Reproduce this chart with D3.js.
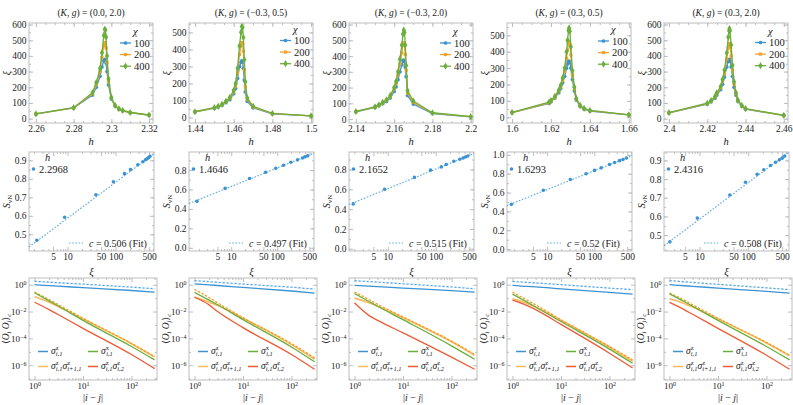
<!DOCTYPE html>
<html>
<head>
<meta charset="utf-8">
<title>xi, entropy and correlators</title>
<script src="https://cdnjs.cloudflare.com/ajax/libs/d3/7.8.5/d3.min.js"></script>
<style>
  body { margin: 0; background: #fff; }
  svg text { font-family: "Liberation Serif", "DejaVu Serif", serif !important; }
</style>
</head>
<body>
<script>
// ---------------- data ----------------
var titleK = ["0.0", "\u22120.3", "\u22120.3", "0.3", "0.3"];
var titleG = ["2.0", "0.5", "2.0", "0.5", "2.0"];

// top row: correlation length xi vs h, for chi = 100, 200, 400
var chiLabels = ["100", "200", "400"];
var h1 = [2.26, 2.28, 2.29, 2.292, 2.294, 2.295, 2.296, 2.2965, 2.2968, 2.2972, 2.2977, 2.2985, 2.300, 2.302, 2.304, 2.306, 2.31, 2.32];
var xi1 = [
  [30, 68, 150, 200, 270, 330, 370, 378, 375, 355, 300, 215, 125, 80, 60, 50, 38, 22],
  [30, 69, 158, 215, 300, 390, 465, 485, 480, 450, 360, 240, 132, 82, 62, 51, 39, 22],
  [30, 70, 165, 230, 320, 420, 530, 570, 565, 520, 400, 255, 135, 84, 63, 52, 39, 23]
];
var h2 = [1.44, 1.45, 1.452, 1.454, 1.456, 1.458, 1.46, 1.461, 1.462, 1.463, 1.4638, 1.4642, 1.4646, 1.465, 1.4655, 1.466, 1.467, 1.47, 1.48, 1.5];
var xi2 = [
  [33, 55, 62, 72, 88, 105, 140, 170, 230, 300, 325, 332, 325, 290, 220, 150, 95, 58, 22, 10],
  [34, 57, 64, 75, 92, 112, 150, 185, 265, 370, 420, 440, 435, 390, 280, 180, 105, 62, 23, 10],
  [34, 58, 66, 78, 96, 118, 160, 200, 290, 420, 500, 535, 530, 470, 340, 210, 115, 66, 24, 10]
];
var h3 = [2.14, 2.15, 2.152, 2.154, 2.156, 2.158, 2.16, 2.161, 2.162, 2.163, 2.164, 2.1646, 2.165, 2.1654, 2.1658, 2.1663, 2.167, 2.17, 2.18, 2.2];
var xi3 = [
  [46, 74, 85, 98, 112, 135, 175, 205, 250, 300, 345, 370, 375, 365, 330, 270, 150, 95, 35, 14],
  [47, 76, 88, 102, 118, 142, 190, 225, 280, 350, 420, 470, 485, 470, 410, 310, 165, 105, 37, 15],
  [48, 78, 90, 106, 122, 150, 200, 240, 300, 380, 470, 540, 565, 550, 470, 340, 180, 115, 40, 15]
];
var h4 = [1.6, 1.619, 1.62, 1.622, 1.624, 1.625, 1.626, 1.627, 1.628, 1.6285, 1.629, 1.6293, 1.6297, 1.6302, 1.631, 1.632, 1.633, 1.635, 1.637, 1.64, 1.66];
var xi4 = [
  [28, 85, 95, 118, 150, 175, 210, 250, 300, 325, 340, 342, 335, 300, 230, 160, 105, 65, 50, 38, 14],
  [29, 88, 98, 122, 158, 185, 225, 280, 360, 410, 450, 460, 445, 380, 260, 175, 110, 68, 52, 40, 14],
  [30, 92, 102, 128, 165, 195, 240, 300, 400, 470, 530, 545, 525, 430, 285, 185, 115, 72, 54, 42, 15]
];
var h5 = [2.4, 2.42, 2.422, 2.424, 2.425, 2.427, 2.428, 2.429, 2.4302, 2.431, 2.4314, 2.4316, 2.4319, 2.4325, 2.4332, 2.434, 2.435, 2.436, 2.438, 2.44, 2.46];
var xi5 = [
  [36, 92, 108, 130, 150, 185, 220, 265, 330, 365, 375, 378, 370, 330, 270, 200, 150, 110, 80, 60, 20],
  [37, 95, 112, 135, 158, 195, 240, 290, 380, 450, 475, 480, 470, 400, 310, 220, 160, 115, 82, 62, 20],
  [38, 98, 115, 140, 165, 205, 250, 310, 420, 520, 560, 575, 560, 470, 340, 235, 165, 118, 85, 64, 21]
];
var topH = [h1, h2, h3, h4, h5];
var topXi = [xi1, xi2, xi3, xi4, xi5];
var topXTicks = [[2.26, 2.28, 2.3, 2.32], [1.44, 1.46, 1.48, 1.5], [2.14, 2.16, 2.18, 2.2], [1.6, 1.62, 1.64, 1.66], [2.4, 2.42, 2.44, 2.46]];
var topYMax = [600, 500, 600, 500, 600];

// middle row: entanglement entropy vs xi at h_c
var hcLabels = ["2.2968", "1.4646", "2.1652", "1.6293", "2.4316"];
var xiS1 = [2.3, 8.7, 39, 90, 153, 205, 290, 370, 420, 455, 490, 520];
var S1 = [0.468, 0.592, 0.714, 0.784, 0.828, 0.850, 0.876, 0.892, 0.903, 0.909, 0.915, 0.922];
var xiS2 = [1.8, 7.4, 25, 56, 93, 137, 198, 276, 354, 400, 456];
var S2 = [0.478, 0.612, 0.713, 0.778, 0.818, 0.85, 0.88, 0.905, 0.925, 0.936, 0.946];
var xiS3 = [1.9, 8.6, 36, 78, 131, 166, 239, 318, 373, 416, 466];
var S3 = [0.453, 0.60, 0.72, 0.793, 0.826, 0.85, 0.883, 0.903, 0.915, 0.925, 0.935];
var xiS4 = [1.75, 8.3, 31, 67, 101, 140, 210, 270, 344, 406, 480];
var S4 = [0.475, 0.625, 0.738, 0.80, 0.835, 0.862, 0.897, 0.918, 0.938, 0.951, 0.966];
var xiS5 = [2.46, 9.0, 42, 88, 153, 210, 288, 365, 440, 500, 565];
var S5 = [0.464, 0.591, 0.715, 0.783, 0.826, 0.85, 0.873, 0.89, 0.903, 0.912, 0.923];
var midXi = [xiS1, xiS2, xiS3, xiS4, xiS5];
var midS = [S1, S2, S3, S4, S5];
var cFit = [0.506, 0.497, 0.515, 0.52, 0.508];
var fitConst = [0.393, 0.44, 0.4085, 0.432, 0.3905];
var midYTicks = [[0.5, 0.6, 0.7, 0.8, 0.9], [0, 0.2, 0.4, 0.6, 0.8], [0, 0.2, 0.4, 0.6, 0.8], [0, 0.2, 0.4, 0.6, 0.8, 1.0], [0.5, 0.6, 0.7, 0.8, 0.9]];

// bottom row: connected correlators vs |i-j|
var dist = [1, 2, 3, 10, 100, 300];
var sigZ = [
  [1.0, 0.86, 0.79, 0.60, 0.37, 0.28],
  [1.17, 0.98, 0.87, 0.63, 0.34, 0.24],
  [0.89, 0.78, 0.72, 0.56, 0.36, 0.28],
  [0.89, 0.74, 0.68, 0.49, 0.27, 0.20],
  [1.0, 0.84, 0.76, 0.56, 0.32, 0.24]
];
var sigZref = [
  [1.78, 1.55, 1.41, 1.10, 0.66, 0.50],
  [2.0, 1.68, 1.51, 1.12, 0.65, 0.47],
  [2.0, 1.70, 1.55, 1.16, 0.68, 0.50],
  [1.78, 1.48, 1.35, 1.0, 0.56, 0.43],
  [2.0, 1.66, 1.48, 1.07, 0.58, 0.43]
];
var zzNN = [
  [0.126, 0.050, 0.025, 2.8e-3, 4.0e-5, 4.0e-6],
  [0.12, 0.050, 0.028, 3.2e-3, 3.4e-5, 2.8e-6],
  [0.10, 0.045, 0.025, 3.5e-3, 5.6e-5, 5.6e-6],
  [0.089, 0.040, 0.022, 2.2e-3, 2.2e-5, 2.0e-6],
  [0.089, 0.040, 0.022, 2.8e-3, 4.5e-5, 5.0e-6]
];
var zzNNref = [
  [0.28, 0.079, 0.035, 3.2e-3, 4.2e-5, 4.5e-6],
  [0.45, 0.112, 0.045, 3.5e-3, 4.1e-5, 3.5e-6],
  [0.28, 0.079, 0.035, 4.0e-3, 6.3e-5, 6.3e-6],
  [0.28, 0.071, 0.032, 2.5e-3, 2.5e-5, 2.5e-6],
  [0.24, 0.071, 0.032, 3.2e-3, 5.0e-5, 5.6e-6]
];
var sigX = [
  [0.25, 0.063, 0.028, 2.2e-3, 2.5e-5, 2.5e-6],
  [0.27, 0.071, 0.032, 2.5e-3, 2.3e-5, 1.8e-6],
  [0.22, 0.056, 0.025, 2.5e-3, 2.8e-5, 2.8e-6],
  [0.20, 0.050, 0.022, 1.8e-3, 1.6e-5, 1.4e-6],
  [0.21, 0.056, 0.025, 2.2e-3, 2.5e-5, 2.5e-6]
];
var zzRung = [
  [0.050, 0.014, 6.3e-3, 5.6e-4, 6.3e-6, 5.6e-7],
  [0.117, 0.0316, 0.010, 6.3e-4, 6.3e-6, 5.0e-7],
  [0.045, 5.0e-3, 2.2e-3, 2.6e-4, 4.0e-6, 5.0e-7],
  [0.071, 0.028, 0.014, 1.1e-3, 7.9e-6, 6.3e-7],
  [0.048, 0.014, 6.3e-3, 5.6e-4, 5.6e-6, 5.0e-7]
];

// ---------------- layout ----------------
var colLeft = [29, 189, 349, 507, 664];
var rowW = [124, 125, 128];
var rowY = [[23, 123], [152, 251], [278, 380]];
var topXDomain = [[2.2563, 2.3221], [1.4369, 1.5010], [2.1364, 2.2012], [1.5974, 1.6611], [2.3974, 2.4622]];
var topYDomain = [[-28, 610], [-32, 555], [-25, 610], [-35, 575], [-28, 610]];
var midXDomain = [[1.58, 630], [1.21, 630], [1.55, 630], [1.41, 630], [1.86, 692]];
var midYDomain = [[0.41, 0.945], [-0.033, 0.986], [-0.022, 0.976], [-0.02, 1.03], [0.415, 0.945]];
var legendY = [20, 17.5, 20, 18, 19.5];

var blue = "#3b93d3", orange = "#f6a12a", green = "#6aaf3c", red = "#ee5a35";
var chiColors = [blue, orange, green];
var chiSymbols = [d3.symbolCircle, d3.symbolSquare, d3.symbolDiamond];
var symSize = [11, 10, 15];
var frameCol = "#bdbdbd";

var svg = d3.select("body").append("svg").attr("width", 793).attr("height", 405);
svg.append("rect").attr("width", 793).attr("height", 405).attr("fill", "#fff");
var defs = svg.append("defs");
var clipN = 0;

function noLabel() { return ""; }

function axes(g, x, y, w, h, o) {
  g.append("rect").attr("width", w).attr("height", h)
    .attr("fill", "none").attr("stroke", frameCol).attr("stroke-width", 1);
  var fs = o.fontSize || 9.5;
  function put(gen, sc, vals, fmt, len, tr) {
    var a = g.append("g").attr("transform", tr)
      .call(gen(sc).tickValues(vals).tickFormat(fmt).tickSizeInner(-len).tickSizeOuter(0).tickPadding(2.5));
    a.attr("font-size", fs);
    a.select(".domain").remove();
    a.selectAll(".tick line").attr("stroke", frameCol);
    a.selectAll(".tick text").attr("fill", "#222");
    return a;
  }
  var bt = "translate(0," + h + ")", rt = "translate(" + w + ",0)";
  var bx = put(d3.axisBottom, x, o.xMajor, o.xFmt, 4, bt);
  put(d3.axisBottom, x, o.xMinor, noLabel, 2, bt);
  put(d3.axisTop, x, o.xMajor, noLabel, 4, "translate(0,0)");
  put(d3.axisTop, x, o.xMinor, noLabel, 2, "translate(0,0)");
  var ly = put(d3.axisLeft, y, o.yMajor, o.yFmt, 4, "translate(0,0)");
  put(d3.axisLeft, y, o.yMinor, noLabel, 2, "translate(0,0)");
  put(d3.axisRight, y, o.yMajor, noLabel, 4, rt);
  put(d3.axisRight, y, o.yMinor, noLabel, 2, rt);
  return { x: bx, y: ly };
}

function powLabels(a) {
  a.selectAll(".tick text").each(function (d) {
    var t = d3.select(this), e = Math.round(Math.log10(d));
    t.text("");
    t.append("tspan").text("10");
    t.append("tspan").attr("dy", "-0.45em").attr("font-size", 6)
      .text(String(e).replace("-", "\u2212"));
  });
}

function clipFor(g, w, h) {
  var id = "clip" + (clipN++);
  defs.append("clipPath").attr("id", id).append("rect").attr("width", w).attr("height", h);
  return "url(#" + id + ")";
}

function yLabel(g, x, y, build) {
  var t = g.append("text").attr("transform", "translate(" + x + "," + y + ") rotate(-90)")
    .attr("text-anchor", "middle").attr("font-size", 10).attr("fill", "#222");
  build(t);
}

function sigmaLabel(t, parts) {
  var off = 0;
  parts.forEach(function (p) {
    t.append("tspan").attr("dy", -off).attr("font-style", "italic").text("\u03c3");
    t.append("tspan").attr("font-size", 6.5).attr("dy", -3.5).text(p[0]);
    t.append("tspan").attr("font-size", 6.5).attr("dx", -2.8).attr("dy", 5.5).attr("font-style", "italic").text(p[1]);
    off = 2;
  });
}

function stepRange(a, b, s) {
  var out = [];
  for (var v = Math.ceil(a / s) * s; v <= b + 1e-9; v += s) out.push(+v.toFixed(6));
  return out;
}

// ---------------- top row ----------------
function drawTop(c) {
  var w = rowW[0], h = rowY[0][1] - rowY[0][0];
  var g = svg.append("g").attr("transform", "translate(" + colLeft[c] + "," + rowY[0][0] + ")");
  var x = d3.scaleLinear().domain(topXDomain[c]).range([0, w]);
  var y = d3.scaleLinear().domain(topYDomain[c]).range([h, 0]);
  axes(g, x, y, w, h, {
    xMajor: topXTicks[c], xFmt: function (d) { return String(+d.toFixed(3)); },
    xMinor: stepRange(topXDomain[c][0], topXDomain[c][1], 0.005),
    yMajor: d3.range(0, topYMax[c] + 1, 100), yFmt: d3.format("d"),
    yMinor: stepRange(0, topYDomain[c][1], 50)
  });
  var cp = clipFor(g, w, h);
  var hs = topH[c];
  topXi[c].forEach(function (ser, k) {
    var pts = hs.map(function (hv, i) { return [hv, ser[i]]; });
    g.append("path")
      .attr("d", d3.line().x(function (d) { return x(d[0]); }).y(function (d) { return y(d[1]); })(pts))
      .attr("fill", "none").attr("stroke", chiColors[k]).attr("stroke-width", 1.3)
      .attr("clip-path", cp);
    g.selectAll(null).data(pts).enter().append("path")
      .attr("transform", function (d) { return "translate(" + x(d[0]) + "," + y(d[1]) + ")"; })
      .attr("d", d3.symbol().type(chiSymbols[k]).size(symSize[k]))
      .attr("fill", chiColors[k]);
  });
  // legend
  var l0 = legendY[c];
  g.append("text").attr("x", 104).attr("y", l0 - 8).attr("font-size", 10.5)
    .attr("font-style", "italic").attr("fill", "#222").text("\u03c7");
  chiLabels.forEach(function (lab, k) {
    var yy = l0 + k * 11.6;
    g.append("line").attr("x1", 91).attr("x2", 102).attr("y1", yy).attr("y2", yy)
      .attr("stroke", chiColors[k]).attr("stroke-width", 1.3);
    g.append("path").attr("transform", "translate(96.5," + yy + ")")
      .attr("d", d3.symbol().type(chiSymbols[k]).size(symSize[k])).attr("fill", chiColors[k]);
    g.append("text").attr("x", 105).attr("y", yy + 3.5).attr("font-size", 10.5)
      .attr("fill", "#222").text(lab);
  });
  // title
  var t = g.append("text").attr("x", w / 2).attr("y", -7).attr("text-anchor", "middle")
    .attr("font-size", 9.5).attr("fill", "#222");
  t.append("tspan").text("(");
  t.append("tspan").attr("font-style", "italic").text("K");
  t.append("tspan").text(", ");
  t.append("tspan").attr("font-style", "italic").text("g");
  t.append("tspan").text(") = (" + titleK[c] + ", " + titleG[c] + ")");
  // axis labels
  yLabel(g, -19, h / 2, function (tt) { tt.attr("font-style", "italic").text("\u03be"); });
  g.append("text").attr("x", w / 2).attr("y", h + 22).attr("text-anchor", "middle")
    .attr("font-size", 10.5).attr("font-style", "italic").attr("fill", "#222").text("h");
}

// ---------------- middle row ----------------
function drawMid(c) {
  var w = rowW[1], h = rowY[1][1] - rowY[1][0];
  var g = svg.append("g").attr("transform", "translate(" + colLeft[c] + "," + rowY[1][0] + ")");
  var dom = midXDomain[c];
  var x = d3.scaleLog().domain(dom).range([0, w]);
  var y = d3.scaleLinear().domain(midYDomain[c]).range([h, 0]);
  var minorX = [1, 2, 3, 4, 6, 7, 8, 9, 20, 30, 40, 60, 70, 80, 90, 200, 300, 400, 600]
    .filter(function (v) { return v >= dom[0] && v <= dom[1]; });
  var yStep = midYTicks[c][1] - midYTicks[c][0];
  axes(g, x, y, w, h, {
    xMajor: [5, 10, 50, 100, 500], xFmt: d3.format("d"), xMinor: minorX,
    yMajor: midYTicks[c], yFmt: d3.format(".1f"),
    yMinor: stepRange(midYDomain[c][0], midYDomain[c][1], yStep / 2)
  });
  var cp = clipFor(g, w, h);
  var fitPts = dom.map(function (v) { return [v, fitConst[c] + cFit[c] / 6 * Math.log(v)]; });
  g.append("path")
    .attr("d", d3.line().x(function (d) { return x(d[0]); }).y(function (d) { return y(d[1]); })(fitPts))
    .attr("fill", "none").attr("stroke", "#62b0e3").attr("stroke-width", 1.2)
    .attr("stroke-dasharray", "1.6,1.6").attr("clip-path", cp);
  var pts = midXi[c].map(function (v, i) { return [v, midS[c][i]]; });
  g.selectAll(null).data(pts).enter().append("circle")
    .attr("cx", function (d) { return x(d[0]); }).attr("cy", function (d) { return y(d[1]); })
    .attr("r", 1.8).attr("fill", blue);
  // legends
  g.append("text").attr("x", 16).attr("y", 9).attr("font-size", 10.5).attr("font-style", "italic")
    .attr("fill", "#222").text("h");
  g.append("circle").attr("cx", 4.5).attr("cy", 17).attr("r", 1.8).attr("fill", blue);
  g.append("text").attr("x", 10).attr("y", 20.5).attr("font-size", 10.5).attr("fill", "#222").text(hcLabels[c]);
  g.append("line").attr("x1", 40).attr("x2", 54).attr("y1", 91).attr("y2", 91)
    .attr("stroke", "#62b0e3").attr("stroke-width", 1.2).attr("stroke-dasharray", "1.6,1.6");
  var ft = g.append("text").attr("x", 60).attr("y", 94.5).attr("font-size", 10).attr("fill", "#222");
  ft.append("tspan").attr("font-style", "italic").text("c");
  ft.append("tspan").text(" = " + cFit[c] + " (Fit)");
  // axis labels
  yLabel(g, -19, h / 2, function (tt) {
    tt.append("tspan").attr("font-style", "italic").text("S");
    tt.append("tspan").attr("font-size", 7).attr("dy", 2).text("vN");
  });
  g.append("text").attr("x", w / 2).attr("y", h + 24).attr("text-anchor", "middle")
    .attr("font-size", 10.5).attr("font-style", "italic").attr("fill", "#222").text("\u03be");
}

// ---------------- bottom row ----------------
function drawBot(c) {
  var w = rowW[2], h = rowY[2][1] - rowY[2][0];
  var g = svg.append("g").attr("transform", "translate(" + colLeft[c] + "," + rowY[2][0] + ")");
  var x = d3.scaleLog().domain([0.771, 336]).range([0, w]);
  var y = d3.scaleLog().domain([Math.pow(10, -7.1), Math.pow(10, 0.5)]).range([h, 0]);
  var ax = axes(g, x, y, w, h, {
    xMajor: [1, 10, 100], xFmt: d3.format("d"),
    xMinor: [2, 3, 4, 5, 6, 7, 8, 9, 20, 30, 40, 50, 60, 70, 80, 90, 200, 300],
    yMajor: [1, 1e-2, 1e-4, 1e-6], yFmt: d3.format("g"),
    yMinor: [1e-1, 1e-3, 1e-5, 1e-7], fontSize: 9
  });
  powLabels(ax.x);
  powLabels(ax.y);
  var cp = clipFor(g, w, h);
  var line = d3.line().curve(d3.curveMonotoneX)
    .x(function (d) { return x(d[0]); }).y(function (d) { return y(d[1]); });
  var series = [
    [sigZ[c], blue, null, 1.3],
    [sigZref[c], "#5aaae2", "2.4,1.6", 1.3],
    [zzNN[c], "#f9b95e", null, 1.6],
    [zzNNref[c], "#f49b22", "2.4,1.6", 1.3],
    [sigX[c], green, null, 1.3],
    [zzRung[c], red, null, 1.3]
  ];
  series.forEach(function (s) {
    var pts = dist.map(function (r, i) { return [r, s[0][i]]; });
    g.append("path").attr("d", line(pts)).attr("fill", "none")
      .attr("stroke", s[1]).attr("stroke-width", s[3])
      .attr("stroke-dasharray", s[2]).attr("clip-path", cp);
  });
  // legend
  var leg = [
    [9, 73.5, blue, [["z", "i,1"]]],
    [59, 73.5, green, [["x", "i,1"]]],
    [9, 88.5, "#f9b95e", [["z", "i,1"], ["z", "i+1,1"]]],
    [59, 88.5, red, [["z", "i,1"], ["z", "i,2"]]]
  ];
  leg.forEach(function (e) {
    g.append("line").attr("x1", e[0]).attr("x2", e[0] + 10).attr("y1", e[1]).attr("y2", e[1])
      .attr("stroke", e[2]).attr("stroke-width", 1.5);
    var t = g.append("text").attr("x", e[0] + 13).attr("y", e[1] + 2).attr("font-size", 9.5).attr("fill", "#222");
    sigmaLabel(t, e[3]);
  });
  // axis labels
  yLabel(g, -20, h / 2, function (tt) {
    tt.attr("font-size", 9.5);
    tt.append("tspan").text("\u27e8");
    tt.append("tspan").attr("font-style", "italic").text("O");
    tt.append("tspan").attr("font-size", 6.5).attr("dy", 1.5).attr("font-style", "italic").text("i");
    tt.append("tspan").attr("dy", -1.5).text(" ");
    tt.append("tspan").attr("font-style", "italic").text("O");
    tt.append("tspan").attr("font-size", 6.5).attr("dy", 1.5).attr("font-style", "italic").text("j");
    tt.append("tspan").attr("dy", -1.5).text("\u27e9");
    tt.append("tspan").attr("font-size", 6.5).attr("dy", 1.5).attr("font-style", "italic").text("c");
  });
  var xl = g.append("text").attr("x", w / 2).attr("y", h + 21).attr("text-anchor", "middle")
    .attr("font-size", 10).attr("fill", "#222");
  xl.append("tspan").text("|");
  xl.append("tspan").attr("font-style", "italic").text("i");
  xl.append("tspan").text(" \u2212 ");
  xl.append("tspan").attr("font-style", "italic").text("j");
  xl.append("tspan").text("|");
}

for (var c = 0; c < 5; c++) {
  drawTop(c);
  drawMid(c);
  drawBot(c);
}
</script>
</body>
</html>
